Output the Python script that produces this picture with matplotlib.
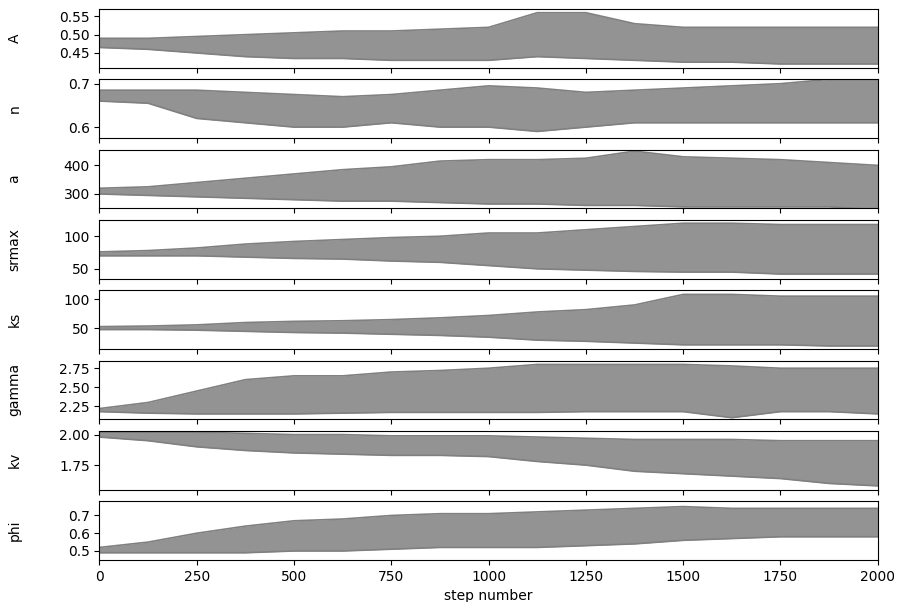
import matplotlib
matplotlib.use("Agg")
import matplotlib.pyplot as plt

# Trace envelopes (lower / upper walker bounds)
steps = [0, 125, 250, 375, 500, 625, 750, 875, 1000, 1125, 1250, 1375, 1500, 1625, 1750, 1875, 2000]
labels = ["A", "n", "a", "srmax", "ks", "gamma", "kv", "phi"]

A_lo = [.465, .46, .45, .44, .435, .435, .43, .43, .43, .44, .435, .43, .425, .425, .42, .42, .42]
A_hi = [.49, .49, .495, .50, .505, .51, .51, .515, .52, .56, .56, .53, .52, .52, .52, .52, .52]
n_lo = [.66, .655, .62, .61, .60, .60, .61, .60, .60, .59, .60, .61, .61, .61, .61, .61, .61]
n_hi = [.685, .685, .685, .68, .675, .67, .675, .685, .695, .69, .68, .685, .69, .695, .70, .71, .71]
a_lo = [300, 295, 290, 285, 280, 275, 275, 270, 265, 265, 260, 260, 255, 255, 255, 255, 245]
a_hi = [320, 325, 340, 355, 370, 385, 395, 415, 420, 420, 425, 450, 430, 425, 420, 410, 400]
sr_lo = [70, 70, 70, 68, 66, 65, 62, 60, 55, 50, 48, 46, 45, 45, 42, 42, 42]
sr_hi = [76, 78, 82, 88, 92, 95, 98, 100, 105, 105, 110, 115, 120, 120, 118, 118, 118]
ks_lo = [48, 48, 47, 45, 43, 42, 40, 38, 35, 30, 28, 25, 22, 22, 22, 20, 20]
ks_hi = [53, 54, 56, 60, 62, 63, 65, 68, 72, 78, 82, 90, 108, 108, 105, 105, 105]
g_lo = [2.18, 2.16, 2.15, 2.15, 2.15, 2.16, 2.17, 2.17, 2.17, 2.17, 2.18, 2.18, 2.18, 2.10, 2.18, 2.18, 2.15]
g_hi = [2.22, 2.30, 2.45, 2.60, 2.65, 2.65, 2.70, 2.72, 2.75, 2.80, 2.80, 2.80, 2.80, 2.78, 2.75, 2.75, 2.75]
kv_lo = [1.98, 1.95, 1.90, 1.87, 1.85, 1.84, 1.83, 1.83, 1.82, 1.78, 1.75, 1.70, 1.68, 1.66, 1.64, 1.60, 1.58]
kv_hi = [2.02, 2.02, 2.02, 2.01, 2.00, 2.00, 1.99, 1.99, 1.99, 1.98, 1.97, 1.96, 1.96, 1.96, 1.95, 1.95, 1.95]
phi_lo = [.49, .49, .49, .49, .50, .50, .51, .52, .52, .52, .53, .54, .56, .57, .58, .58, .58]
phi_hi = [.52, .55, .60, .64, .67, .68, .70, .71, .71, .72, .73, .74, .75, .74, .74, .74, .74]

lows = [A_lo, n_lo, a_lo, sr_lo, ks_lo, g_lo, kv_lo, phi_lo]
highs = [A_hi, n_hi, a_hi, sr_hi, ks_hi, g_hi, kv_hi, phi_hi]
ylims = [(0.41, 0.57), (0.575, 0.71), (250, 455), (35, 125), (15, 115),
         (2.08, 2.85), (1.55, 2.03), (0.45, 0.78)]

fig, axes = plt.subplots(8, 1, figsize=(9.04, 6.02), sharex=True)
fig.subplots_adjust(left=0.11, right=0.971, top=0.985, bottom=0.07, hspace=0.2)

for ax, lab, lo, hi, yl in zip(axes, labels, lows, highs, ylims):
    ax.fill_between(steps, lo, hi, color="gray", alpha=0.85, lw=0)
    ax.plot(steps, lo, color="gray", lw=1.2)
    ax.plot(steps, hi, color="gray", lw=1.2)
    ax.set_ylim(*yl)
    ax.set_xlim(0, 2000)
    ax.set_ylabel(lab)
    ax.yaxis.set_label_coords(-0.1, 0.5)

axes[0].set_yticks([0.45, 0.50, 0.55])
axes[1].set_yticks([0.6, 0.7])
axes[2].set_yticks([300, 400])
axes[3].set_yticks([50, 100])
axes[4].set_yticks([50, 100])
axes[5].set_yticks([2.25, 2.50, 2.75])
axes[6].set_yticks([1.75, 2.00])
axes[7].set_yticks([0.5, 0.6, 0.7])
axes[-1].set_xlabel("step number")

plt.savefig("out.png", dpi=100)
